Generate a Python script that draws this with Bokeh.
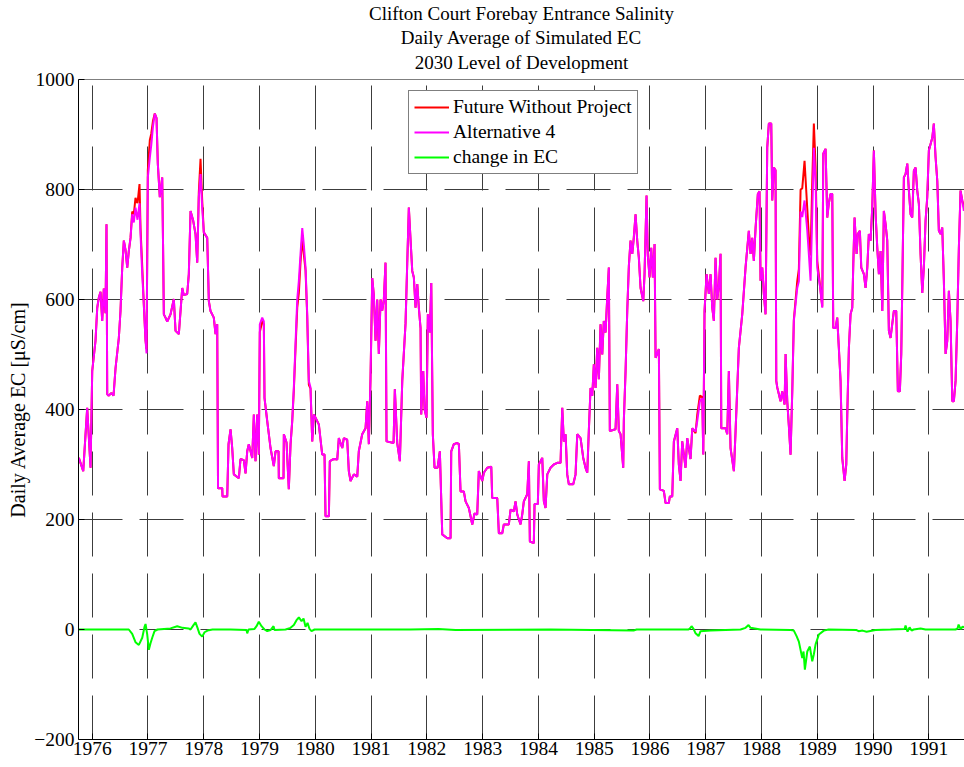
from bokeh.plotting import figure
from bokeh.models import Title, Span, FixedTicker, Range1d, Legend, LegendItem
from bokeh.embed import file_html
from bokeh.resources import INLINE

# ---------------- data ----------------
years = [
    1975.760, 1975.839, 1975.910, 1975.970, 1976.000, 1976.059, 1976.090, 1976.118, 1976.149, 1976.179,
    1976.208, 1976.238, 1976.256, 1976.269, 1976.292, 1976.346, 1976.382, 1976.418, 1976.477, 1976.507,
    1976.538, 1976.567, 1976.597, 1976.628, 1976.656, 1976.687, 1976.717, 1976.746, 1976.776, 1976.812,
    1976.848, 1976.866, 1976.897, 1976.925, 1976.956, 1976.974, 1976.997, 1977.033, 1977.058, 1977.090,
    1977.122, 1977.153, 1977.176, 1977.212, 1977.255, 1977.270, 1977.284, 1977.314, 1977.345, 1977.404,
    1977.463, 1977.494, 1977.553, 1977.614, 1977.642, 1977.703, 1977.732, 1977.763, 1977.811, 1977.852,
    1977.883, 1977.911, 1977.942, 1977.972, 1978.001, 1978.062, 1978.091, 1978.121, 1978.180, 1978.211,
    1978.241, 1978.256, 1978.331, 1978.336, 1978.421, 1978.444, 1978.480, 1978.510, 1978.539, 1978.629,
    1978.659, 1978.718, 1978.749, 1978.779, 1978.808, 1978.869, 1978.898, 1978.928, 1978.959, 1978.987,
    1979.005, 1979.048, 1979.077, 1979.089, 1979.138, 1979.197, 1979.256, 1979.287, 1979.341, 1979.346,
    1979.430, 1979.436, 1979.484, 1979.525, 1979.556, 1979.586, 1979.615, 1979.645, 1979.676, 1979.705,
    1979.735, 1979.766, 1979.794, 1979.825, 1979.855, 1979.884, 1979.914, 1979.945, 1979.974, 1980.004,
    1980.063, 1980.124, 1980.165, 1980.183, 1980.243, 1980.260, 1980.332, 1980.393, 1980.422, 1980.483,
    1980.511, 1980.572, 1980.601, 1980.632, 1980.691, 1980.752, 1980.780, 1980.841, 1980.901, 1980.931,
    1980.960, 1980.990, 1981.021, 1981.049, 1981.080, 1981.110, 1981.139, 1981.170, 1981.200, 1981.229,
    1981.259, 1981.277, 1981.403, 1981.426, 1981.469, 1981.516, 1981.559, 1981.618, 1981.648, 1981.677,
    1981.707, 1981.738, 1981.767, 1981.797, 1981.828, 1981.856, 1981.887, 1981.899, 1981.935, 1981.959,
    1981.994, 1982.018, 1982.054, 1982.079, 1982.107, 1982.138, 1982.192, 1982.233, 1982.276, 1982.366,
    1982.425, 1982.437, 1982.484, 1982.545, 1982.574, 1982.604, 1982.663, 1982.694, 1982.753, 1982.814,
    1982.855, 1982.903, 1982.932, 1982.993, 1983.022, 1983.083, 1983.155, 1983.172, 1983.262, 1983.291,
    1983.352, 1983.380, 1983.470, 1983.501, 1983.560, 1983.590, 1983.621, 1983.680, 1983.710, 1983.739,
    1983.800, 1983.829, 1983.847, 1983.918, 1983.931, 1983.990, 1984.008, 1984.069, 1984.098, 1984.128,
    1984.159, 1984.218, 1984.277, 1984.338, 1984.397, 1984.428, 1984.456, 1984.487, 1984.517, 1984.546,
    1984.625, 1984.666, 1984.697, 1984.756, 1984.804, 1984.845, 1984.876, 1984.904, 1984.935, 1984.966,
    1984.994, 1985.025, 1985.055, 1985.084, 1985.114, 1985.145, 1985.173, 1985.204, 1985.234, 1985.263,
    1985.281, 1985.383, 1985.414, 1985.442, 1985.473, 1985.521, 1985.532, 1985.563, 1985.593, 1985.622,
    1985.652, 1985.683, 1985.711, 1985.742, 1985.772, 1985.801, 1985.832, 1985.880, 1985.903, 1985.939,
    1985.962, 1985.993, 1986.023, 1986.052, 1986.083, 1986.101, 1986.160, 1986.178, 1986.249, 1986.280,
    1986.339, 1986.357, 1986.400, 1986.429, 1986.490, 1986.518, 1986.549, 1986.579, 1986.638, 1986.669,
    1986.728, 1986.759, 1986.818, 1986.848, 1986.895, 1986.938, 1986.956, 1986.979, 1987.015, 1987.056,
    1987.087, 1987.117, 1987.146, 1987.176, 1987.207, 1987.236, 1987.266, 1987.279, 1987.356, 1987.386,
    1987.415, 1987.445, 1987.505, 1987.535, 1987.594, 1987.655, 1987.714, 1987.773, 1987.804, 1987.834,
    1987.863, 1987.894, 1987.935, 1987.965, 1987.983, 1988.014, 1988.042, 1988.073, 1988.103, 1988.132,
    1988.175, 1988.193, 1988.222, 1988.252, 1988.265, 1988.283, 1988.342, 1988.372, 1988.414, 1988.432,
    1988.462, 1988.491, 1988.521, 1988.552, 1988.580, 1988.641, 1988.670, 1988.701, 1988.731, 1988.772,
    1988.821, 1988.849, 1988.880, 1988.910, 1988.939, 1988.970, 1989.000, 1989.047, 1989.090, 1989.108,
    1989.149, 1989.179, 1989.208, 1989.238, 1989.269, 1989.287, 1989.328, 1989.358, 1989.387, 1989.418,
    1989.448, 1989.490, 1989.520, 1989.538, 1989.567, 1989.597, 1989.628, 1989.646, 1989.669, 1989.705,
    1989.728, 1989.764, 1989.789, 1989.836, 1989.866, 1989.897, 1989.925, 1989.956, 1989.986, 1990.015,
    1990.046, 1990.076, 1990.105, 1990.135, 1990.166, 1990.194, 1990.225, 1990.255, 1990.284, 1990.314,
    1990.373, 1990.416, 1990.445, 1990.481, 1990.506, 1990.524, 1990.553, 1990.583, 1990.614, 1990.643,
    1990.673, 1990.703, 1990.732, 1990.763, 1990.793, 1990.822, 1990.852, 1990.883, 1990.911, 1990.942,
    1990.972, 1991.001, 1991.062, 1991.090, 1991.121, 1991.152, 1991.180, 1991.211, 1991.241, 1991.270,
    1991.301, 1991.331, 1991.360, 1991.390, 1991.421, 1991.449, 1991.480, 1991.510, 1991.539, 1991.569,
    1991.600, 1991.629,
]

alternative_4 = [
    312, 288, 403, 294, 470, 525, 585, 603, 614, 561,
    620, 575, 737, 428, 425, 430, 425, 475, 530, 579,
    658, 707, 690, 658, 688, 712, 755, 740, 767, 745,
    775, 719, 646, 591, 525, 502, 822, 858, 880, 915,
    938, 930, 847, 786, 822, 700, 573, 567, 560, 573,
    601, 543, 537, 621, 608, 610, 646, 761, 743, 719,
    667, 786, 828, 767, 722, 712, 597, 579, 567, 537,
    555, 257, 257, 242, 242, 337, 364, 330, 282, 275,
    310, 308, 284, 324, 337, 312, 391, 306, 391, 318,
    555, 567, 560, 421, 379, 330, 297, 324, 324, 275,
    275, 355, 340, 255, 337, 380, 440, 520, 600, 634,
    683, 730, 700, 658, 573, 452, 440, 342, 391, 385,
    373, 318, 318, 206, 206, 306, 310, 309, 348, 330,
    348, 345, 288, 270, 282, 278, 324, 355, 366, 415,
    337, 457, 639, 608, 525, 600, 501, 600, 580, 600,
    667, 342, 339, 437, 339, 306, 452, 557, 665, 767,
    710, 652, 640, 585, 628, 585, 548, 391, 470, 400,
    385, 573, 540, 630, 355, 294, 294, 324, 173, 166,
    166, 324, 337, 339, 337, 251, 251, 233, 221, 191,
    211, 209, 288, 270, 285, 294, 296, 239, 239, 175,
    175, 191, 191, 218, 215, 233, 209, 191, 209, 233,
    246, 306, 160, 157, 228, 228, 300, 312, 233, 221,
    282, 294, 300, 303, 303, 403, 342, 355, 282, 264,
    264, 282, 355, 348, 312, 294, 285, 361, 439, 425,
    482, 439, 512, 455, 555, 500, 561, 540, 603, 658,
    361, 364, 446, 361, 355, 294, 380, 470, 579, 661,
    707, 683, 713, 755, 707, 676, 621, 597, 646, 789,
    680, 640, 694, 640, 701, 494, 510, 255, 252, 230,
    230, 242, 242, 342, 366, 300, 270, 342, 294, 348,
    310, 366, 360, 379, 415, 420, 318, 579, 646, 610,
    646, 585, 561, 676, 600, 625, 683, 366, 366, 355,
    470, 330, 288, 360, 512, 573, 658, 725, 683, 712,
    670, 730, 792, 797, 634, 658, 610, 573, 876, 920,
    920, 780, 840, 835, 452, 440, 415, 433, 409, 501,
    415, 370, 318, 433, 561, 621, 633, 760, 750, 780,
    725, 683, 634, 755, 876, 815, 658, 625, 585, 865,
    874, 749, 775, 792, 792, 548, 548, 567, 512, 452,
    312, 270, 300, 391, 512, 573, 585, 665, 749, 683,
    719, 725, 658, 646, 621, 658, 719, 707, 767, 871,
    755, 694, 646, 688, 579, 761, 737, 707, 543, 530,
    579, 579, 433, 433, 501, 621, 822, 828, 847, 798,
    755, 749, 834, 840, 798, 774, 683, 612, 658, 743,
    786, 871, 894, 920, 859, 816, 725, 719, 731, 634,
    501, 525, 616, 561, 415, 415, 452, 561, 694, 798,
    780, 761,
]

future_without_project = [
    312, 288, 403, 294, 470, 525, 585, 603, 614, 561,
    620, 575, 737, 428, 425, 430, 425, 475, 530, 579,
    658, 707, 690, 658, 688, 712, 760, 755, 785, 775,
    810, 730, 660, 591, 525, 510, 835, 890, 901, 925,
    938, 930, 847, 786, 822, 700, 573, 567, 560, 573,
    601, 543, 537, 621, 608, 610, 646, 761, 743, 719,
    667, 795, 856, 780, 722, 712, 597, 579, 567, 537,
    555, 257, 257, 242, 242, 337, 364, 330, 282, 275,
    310, 308, 284, 324, 337, 312, 391, 306, 391, 318,
    541, 560, 555, 421, 379, 330, 297, 324, 324, 275,
    275, 355, 340, 255, 337, 378, 435, 510, 585, 612,
    668, 712, 682, 653, 568, 445, 438, 342, 391, 385,
    373, 318, 318, 206, 206, 306, 310, 309, 348, 330,
    348, 345, 288, 270, 282, 278, 324, 355, 366, 415,
    337, 457, 639, 608, 525, 600, 501, 600, 580, 600,
    667, 342, 339, 437, 339, 306, 452, 557, 665, 767,
    710, 652, 640, 585, 628, 585, 548, 391, 470, 400,
    385, 573, 540, 630, 355, 294, 294, 324, 173, 166,
    166, 324, 337, 339, 337, 251, 251, 233, 221, 191,
    211, 209, 288, 270, 285, 294, 296, 239, 239, 175,
    175, 191, 191, 218, 215, 233, 209, 191, 209, 233,
    246, 306, 160, 157, 228, 228, 300, 312, 233, 221,
    282, 294, 300, 303, 303, 403, 342, 355, 282, 264,
    264, 282, 355, 348, 312, 294, 285, 361, 439, 425,
    482, 439, 512, 455, 555, 500, 561, 540, 603, 658,
    361, 364, 446, 361, 355, 294, 380, 470, 579, 661,
    707, 683, 713, 755, 707, 676, 621, 597, 646, 789,
    680, 640, 694, 640, 701, 494, 510, 255, 252, 230,
    230, 242, 242, 342, 366, 300, 270, 342, 294, 348,
    310, 366, 357, 390, 425, 423, 318, 579, 646, 610,
    646, 585, 561, 676, 600, 625, 683, 366, 366, 355,
    470, 330, 288, 360, 512, 573, 658, 725, 683, 712,
    670, 730, 792, 797, 634, 658, 610, 573, 876, 920,
    920, 780, 840, 835, 452, 440, 415, 433, 409, 501,
    415, 370, 318, 434, 563, 633, 655, 800, 802, 852,
    765, 715, 680, 813, 920, 842, 670, 628, 587, 865,
    874, 749, 775, 792, 792, 548, 548, 567, 512, 452,
    312, 270, 300, 391, 512, 573, 585, 665, 749, 683,
    719, 725, 658, 646, 621, 658, 719, 707, 767, 871,
    755, 694, 646, 688, 579, 761, 737, 707, 543, 530,
    579, 579, 433, 433, 501, 621, 822, 828, 847, 798,
    755, 749, 834, 840, 798, 774, 683, 612, 658, 743,
    786, 871, 894, 920, 859, 816, 725, 719, 731, 634,
    501, 525, 616, 561, 415, 415, 452, 561, 694, 798,
    780, 768,
]

change_years = [
    1975.754, 1976.615, 1976.656, 1976.717, 1976.776, 1976.836, 1976.897, 1976.938, 1976.956, 1976.986,
    1977.015, 1977.045, 1977.076, 1977.117, 1977.171, 1977.404, 1977.524, 1977.619, 1977.727, 1977.763,
    1977.816, 1977.852, 1977.888, 1977.924, 1977.972, 1978.014, 1978.067, 1978.157, 1978.480, 1978.767,
    1978.779, 1978.803, 1978.910, 1978.946, 1978.987, 1979.036, 1979.089, 1979.138, 1979.197, 1979.251,
    1979.269, 1979.466, 1979.556, 1979.615, 1979.663, 1979.705, 1979.753, 1979.789, 1979.825, 1979.861,
    1979.896, 1979.932, 1979.986, 1981.707, 1982.209, 1982.514, 1984.218, 1985.706, 1985.760, 1986.692,
    1986.728, 1986.746, 1986.782, 1986.818, 1986.872, 1986.907, 1987.087, 1987.625, 1987.714, 1987.768,
    1987.804, 1987.983, 1988.521, 1988.580, 1988.629, 1988.670, 1988.731, 1988.754, 1988.778, 1988.821,
    1988.867, 1988.910, 1988.939, 1988.970, 1989.029, 1989.118, 1989.203, 1989.705, 1989.741, 1989.812,
    1989.884, 1990.046, 1990.314, 1990.566, 1990.583, 1990.619, 1990.655, 1990.691, 1990.727, 1990.852,
    1990.942, 1991.480, 1991.516, 1991.534, 1991.569, 1991.606, 1991.641,
]
change_in_ec = [
    0, 0, 0, -8, -23, -28, -15, 5, 10, -9,
    -37, -25, -15, -3, 0, 2, 6, 3, 2, 0,
    8, 13, 3, -8, -13, -5, -2, 0, 0, -1,
    -7, 0, 1, 6, 14, 6, 0, -3, -1, 6,
    -1, 0, 3, 8, 17, 22, 15, 20, 5, 12,
    1, -3, 0, 0, 1, -1, 0, -2, 0, 0,
    3, 6, 1, -7, -12, -3, -2, 0, 3, 8,
    3, 0, -1, -2, -12, -22, -52, -40, -73, -40,
    -31, -58, -45, -27, -9, -2, 0, -1, -3, -2,
    -4, -1, 0, 1, 7, -4, 4, -2, 0, 2,
    0, 0, 2, 9, 1, 5, 4,
]

year_ticks = list(range(1976, 1992))
ec_ticks = [-200, 0, 200, 400, 600, 800, 1000]
title_lines = ["Clifton Court Forebay Entrance Salinity",
               "Daily Average of Simulated EC",
               "2030 Level of Development"]

# ---------------- figure ----------------
FONT = "Liberation Serif"

p = figure(width=964, height=765, output_backend="svg", toolbar_location=None,
           x_range=Range1d(1975.754, 1991.64), y_range=Range1d(-200, 1000),
           min_border_left=78, min_border_right=0, min_border_top=0,
           min_border_bottom=26, background_fill_color="white",
           border_fill_color="white")
p.outline_line_color = None

# Titles: p.title is the outermost line; added titles stack from the frame outward
p.title.text = title_lines[0]
p.title.align = "center"
p.title.text_font = FONT
p.title.text_font_size = "19px"
p.title.text_font_style = "normal"
p.title.text_color = "black"
p.title.standoff = 1
for t, so, va in [(title_lines[2], 9, "top"), (title_lines[1], 0, "bottom")]:
    p.add_layout(Title(text=t, align="center", text_font=FONT, text_font_size="19px",
                       text_font_style="normal", text_color="black", standoff=so,
                       vertical_align=va), "above")

# Axes
for ax in (p.xaxis[0], p.yaxis[0]):
    ax.major_label_text_font = FONT
    ax.major_label_text_font_size = "19.5px"
    ax.major_label_text_color = "black"
    ax.axis_line_color = "black"
    ax.axis_line_width = 1
    ax.major_tick_in = 6
    ax.major_tick_out = 0
    ax.major_tick_line_color = "black"
    ax.minor_tick_line_color = None

p.xaxis.ticker = FixedTicker(ticks=year_ticks)
p.xaxis.major_label_standoff = 2
p.yaxis.ticker = FixedTicker(ticks=ec_ticks)
p.yaxis.major_label_standoff = 4
p.yaxis.axis_label = "Daily Average EC [\u03bcS/cm]"
p.yaxis.axis_label_text_font = FONT
p.yaxis.axis_label_text_font_size = "20px"
p.yaxis.axis_label_text_font_style = "normal"
p.yaxis.axis_label_text_color = "black"
p.yaxis.axis_label_standoff = 2

# Grid
for g in (p.xgrid[0], p.ygrid[0]):
    g.grid_line_color = "#3c3c3c"
    g.grid_line_width = 1
    g.grid_line_dash = "44 17"
p.xgrid.ticker = FixedTicker(ticks=year_ticks)
p.ygrid.ticker = FixedTicker(ticks=ec_ticks)

# Top border of the axes box
p.add_layout(Span(location=1000, dimension="width", line_color="black", line_width=1))

# Series
r_fwop = p.line(years, future_without_project, line_color="#ff0000", line_width=2)
r_alt = p.line(years, alternative_4, line_color="#ff00ff", line_width=2)
r_chg = p.line(change_years, change_in_ec, line_color="#00ff00", line_width=2)

legend = Legend(items=[LegendItem(label="Future Without Project", renderers=[r_fwop]),
                       LegendItem(label="Alternative 4", renderers=[r_alt]),
                       LegendItem(label="change in EC", renderers=[r_chg])],
                location=(330, 565), orientation="vertical")
legend.label_text_font = FONT
legend.label_text_font_size = "19.5px"
legend.label_text_color = "black"
legend.glyph_width = 35
legend.glyph_height = 20
legend.label_height = 20
legend.label_standoff = 4
legend.spacing = 3
legend.padding = 5
legend.margin = 0
legend.border_line_color = "black"
legend.border_line_width = 1
legend.background_fill_color = "white"
legend.background_fill_alpha = 1.0
p.add_layout(legend)

open("out.html", "w").write(file_html(p, INLINE))
